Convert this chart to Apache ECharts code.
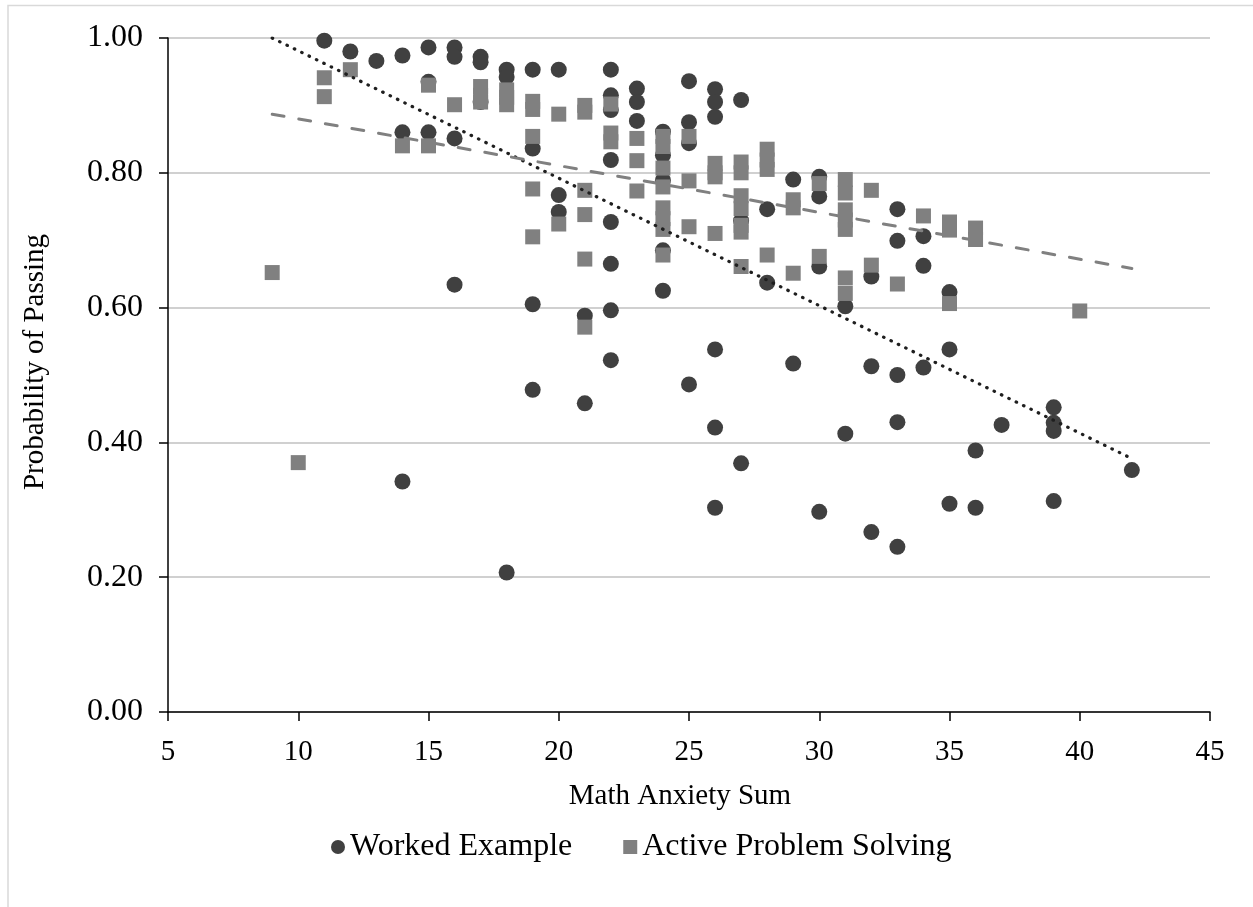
<!DOCTYPE html>
<html>
<head>
<meta charset="utf-8">
<script src="https://cdn.jsdelivr.net/npm/echarts@6/dist/echarts.min.js"></script>
<style>
  html, body { margin: 0; padding: 0; background: #ffffff; }
  #chart { width: 1253px; height: 907px; }
</style>
</head>
<body>
<div id="chart"></div>
<script>
// Probability of passing vs. math anxiety sum, per instructional condition
const workedExample = [
  [11, 0.996], [12, 0.980], [13, 0.966],
  [14, 0.974], [14, 0.860], [14, 0.342],
  [15, 0.986], [15, 0.935], [15, 0.860],
  [16, 0.986], [16, 0.972], [16, 0.851], [16, 0.634],
  [17, 0.972], [17, 0.964], [17, 0.905],
  [18, 0.953], [18, 0.942], [18, 0.207],
  [19, 0.953], [19, 0.836], [19, 0.605], [19, 0.478],
  [20, 0.953], [20, 0.767], [20, 0.742],
  [21, 0.588], [21, 0.458],
  [22, 0.953], [22, 0.915], [22, 0.893], [22, 0.819], [22, 0.727], [22, 0.665], [22, 0.596], [22, 0.522],
  [23, 0.925], [23, 0.905], [23, 0.877],
  [24, 0.861], [24, 0.826], [24, 0.789], [24, 0.685], [24, 0.625],
  [25, 0.936], [25, 0.875], [25, 0.844], [25, 0.486],
  [26, 0.924], [26, 0.905], [26, 0.883], [26, 0.538], [26, 0.422], [26, 0.303],
  [27, 0.908], [27, 0.729], [27, 0.369],
  [28, 0.746], [28, 0.637],
  [29, 0.790], [29, 0.517],
  [30, 0.794], [30, 0.765], [30, 0.661], [30, 0.297],
  [31, 0.602], [31, 0.413],
  [32, 0.646], [32, 0.513], [32, 0.267],
  [33, 0.746], [33, 0.699], [33, 0.500], [33, 0.430], [33, 0.245],
  [34, 0.706], [34, 0.662], [34, 0.511],
  [35, 0.623], [35, 0.538], [35, 0.309],
  [36, 0.388], [36, 0.303],
  [37, 0.426],
  [39, 0.452], [39, 0.429], [39, 0.417], [39, 0.313],
  [42, 0.359]
];

const activeProblemSolving = [
  [9, 0.652], [10, 0.370],
  [11, 0.941], [11, 0.913], [12, 0.953],
  [14, 0.840], [15, 0.930], [15, 0.840], [16, 0.901],
  [17, 0.928], [17, 0.915], [17, 0.905],
  [18, 0.923], [18, 0.912], [18, 0.901],
  [19, 0.906], [19, 0.894], [19, 0.854], [19, 0.776], [19, 0.705],
  [20, 0.887], [20, 0.724],
  [21, 0.900], [21, 0.890], [21, 0.774], [21, 0.738], [21, 0.672], [21, 0.571],
  [22, 0.902], [22, 0.859], [22, 0.846],
  [23, 0.851], [23, 0.818], [23, 0.773],
  [24, 0.854], [24, 0.839], [24, 0.807], [24, 0.779], [24, 0.748], [24, 0.732], [24, 0.716], [24, 0.678],
  [25, 0.854], [25, 0.788], [25, 0.720],
  [26, 0.814], [26, 0.800], [26, 0.794], [26, 0.710],
  [27, 0.816], [27, 0.800], [27, 0.766], [27, 0.747], [27, 0.722], [27, 0.712], [27, 0.661],
  [28, 0.835], [28, 0.819], [28, 0.805], [28, 0.678],
  [29, 0.760], [29, 0.748], [29, 0.651],
  [30, 0.784], [30, 0.676],
  [31, 0.790], [31, 0.770], [31, 0.745], [31, 0.730], [31, 0.716], [31, 0.644], [31, 0.621],
  [32, 0.774], [32, 0.663],
  [33, 0.635], [34, 0.736],
  [35, 0.727], [35, 0.715], [35, 0.606],
  [36, 0.718], [36, 0.701],
  [40, 0.595]
];

// Linear trend lines (end points)
const workedTrend = [[9, 1.000], [42, 0.376]];
const activeTrend = [[9, 0.887], [42, 0.658]];

const xTicks = { min: 5, max: 45, interval: 5 };
const yTicks = { min: 0, max: 1, interval: 0.2 };

const seriesNames = ['Worked Example', 'Active Problem Solving'];
const axisTitles = { x: 'Math Anxiety Sum', y: 'Probability of Passing' };

const FONT = '"Liberation Serif", "Times New Roman", serif';

const chart = echarts.init(document.getElementById('chart'), null, { renderer: 'canvas' });

chart.setOption({
  backgroundColor: '#ffffff',
  animation: false,
  textStyle: { fontFamily: FONT, color: '#000000' },
  graphic: [
    {
      type: 'rect',
      shape: { x: 8, y: 5.5, width: 1300, height: 1000 },
      style: { fill: 'none', stroke: '#d9d9d9', lineWidth: 1.5 },
      silent: true,
      z: -1
    },
    {
      type: 'text',
      x: 35,
      y: 362,
      rotation: Math.PI / 2,
      style: {
        text: axisTitles.y,
        fontFamily: FONT,
        fontSize: 29,
        fill: '#000000',
        align: 'center',
        verticalAlign: 'middle'
      },
      silent: true
    }
  ],
  grid: { left: 168, right: 43, top: 38, bottom: 195 },
  legend: {
    data: seriesNames,
    left: 326,
    top: 826,
    itemWidth: 14,
    itemHeight: 14,
    itemGap: 51,
    textStyle: { fontFamily: FONT, fontSize: 32, color: '#000000' }
  },
  xAxis: {
    type: 'value',
    min: xTicks.min, max: xTicks.max, interval: xTicks.interval,
    name: axisTitles.x,
    nameLocation: 'middle',
    nameGap: 70,
    nameTextStyle: { fontFamily: FONT, fontSize: 29, color: '#000000', padding: [0, 18, 0, 0] },
    axisLine: { show: true, onZero: false, lineStyle: { color: '#000000', width: 1.5 } },
    axisTick: { show: true, inside: false, length: 9, lineStyle: { color: '#000000', width: 1.5 } },
    axisLabel: { margin: 26, fontFamily: FONT, fontSize: 29, color: '#000000' },
    splitLine: { show: false }
  },
  yAxis: {
    type: 'value',
    min: yTicks.min, max: yTicks.max, interval: yTicks.interval,
    axisLine: { show: true, onZero: false, lineStyle: { color: '#000000', width: 1.5 } },
    axisTick: { show: true, inside: false, length: 9, lineStyle: { color: '#000000', width: 1.5 } },
    axisLabel: {
      margin: 25, fontFamily: FONT, fontSize: 32, color: '#000000',
      formatter: v => v.toFixed(2)
    },
    splitLine: { show: true, lineStyle: { color: '#c0c0c0', width: 1.5 } }
  },
  series: [
    {
      name: seriesNames[0],
      type: 'scatter',
      symbol: 'circle',
      symbolSize: 16,
      itemStyle: { color: '#404040', opacity: 1 },
      data: workedExample,
      z: 2
    },
    {
      name: seriesNames[1],
      type: 'scatter',
      symbol: 'rect',
      symbolSize: 15,
      itemStyle: { color: '#808080', opacity: 1 },
      data: activeProblemSolving,
      z: 3
    },
    {
      name: 'Worked Example trend',
      type: 'line',
      data: workedTrend,
      symbol: 'none',
      silent: true,
      lineStyle: { color: '#1f1f1f', width: 3.2, type: [0.5, 7.7], cap: 'round' },
      z: 4
    },
    {
      name: 'Active Problem Solving trend',
      type: 'line',
      data: activeTrend,
      symbol: 'none',
      silent: true,
      lineStyle: { color: '#808080', width: 3, type: [12, 15], cap: 'round' },
      z: 4
    }
  ]
});
</script>
</body>
</html>
